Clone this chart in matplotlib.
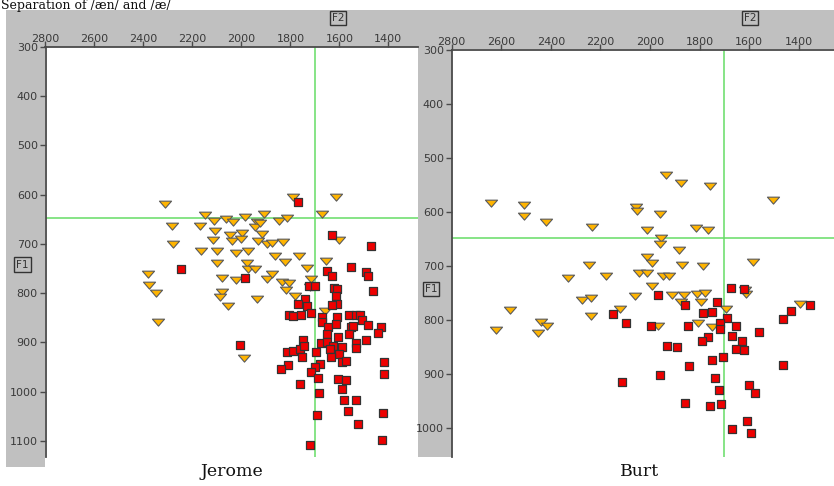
import matplotlib
matplotlib.use('Agg')
import matplotlib.pyplot as plt
from matplotlib.patches import Rectangle
from matplotlib.path import Path

W, H = 834, 486

# F2 ticks / F1 ticks
f2_ticks = [2800, 2600, 2400, 2200, 2000, 1800, 1600, 1400]
jerome_f1_ticks = [300, 400, 500, 600, 700, 800, 900, 1000, 1100]
burt_f1_ticks = [300, 400, 500, 600, 700, 800, 900, 1000]

# green reference lines (F2, F1)
ref_f2 = 1700
ref_f1 = 648

# Jerome: /æn/ (triangles)
jerome_tri_f2 = [1791, 1612, 2312, 2149, 2112, 2061, 2033, 1986, 1907, 1938, 1847, 1812,
                 1673, 2282, 2169, 2106, 2047, 1999, 1945, 1925, 1914, 2115, 2040, 2002,
                 1931, 1897, 1877, 1832, 1602, 2281, 2165, 2101, 2023, 1972, 1863, 1823,
                 1764, 1655, 2101, 1979, 1975, 1945, 1734, 2380, 2081, 2023, 1897, 1877,
                 1836, 1805, 1714, 2378, 2349, 1816, 1782, 2081, 2088, 1935, 2054, 1659,
                 2340, 1990, 1718]
jerome_tri_f1 = [604, 605, 619, 641, 654, 650, 656, 646, 639, 656, 654, 648,
                 639, 664, 664, 674, 681, 678, 666, 658, 680, 693, 695, 691,
                 695, 701, 699, 697, 692, 701, 715, 714, 718, 714, 724, 736,
                 724, 734, 739, 739, 751, 751, 749, 761, 769, 773, 772, 761,
                 777, 780, 772, 783, 800, 793, 805, 797, 807, 813, 827, 837,
                 859, 932, 788]

# Jerome: /æ/ (squares)
jerome_sq_f2 = [1771, 1632, 1472, 2247, 1652, 1629, 1554, 1493, 1482, 1987, 1723, 1700,
                1623, 1608, 1613, 1462, 1741, 1768, 1734, 1609, 1632, 1805, 1791, 1755,
                1714, 1673, 1609, 1560, 1533, 1516, 1506, 1669, 1646, 1612, 1554, 1544,
                1482, 1432, 1442, 1560, 1652, 1748, 1605, 1676, 1652, 1625, 1591, 1533,
                1493, 1812, 1789, 1761, 1744, 1696, 1639, 1601, 1754, 1636, 1591, 1574,
                1533, 2006, 1809, 1840, 1680, 1700, 1714, 1687, 1607, 1575, 1761, 1418,
                1418, 1591, 1682, 1580, 1533, 1564, 1691, 1421, 1523, 1424, 1718]
jerome_sq_f1 = [614, 681, 705, 752, 756, 766, 747, 758, 766, 770, 786, 786,
                790, 792, 806, 795, 812, 822, 827, 822, 825, 844, 847, 844,
                840, 848, 849, 844, 844, 844, 854, 859, 869, 863, 869, 867,
                864, 869, 882, 883, 883, 895, 890, 902, 900, 907, 910, 901,
                896, 919, 917, 913, 908, 920, 913, 924, 930, 930, 941, 937,
                912, 905, 946, 954, 944, 951, 961, 972, 974, 976, 985, 941,
                964, 995, 1003, 1017, 1017, 1039, 1047, 1044, 1065, 1098, 1108]

# Burt: /æn/ (triangles)
burt_tri_f2 = [1936, 1877, 1759, 2642, 2509, 2509, 2420, 2058, 2053, 1960, 1503, 2236,
               2014, 1815, 1768, 1956, 1960, 1882, 2014, 1991, 2245, 1873, 1785, 1584,
               2332, 2178, 2044, 2011, 1949, 1923, 1991, 2276, 2240, 2061, 1913, 1863,
               1812, 1779, 1877, 1796, 1617, 1611, 2565, 2121, 1695, 1396, 2240, 2440,
               2417, 2621, 2451, 1967, 1808, 1752]
burt_tri_f1 = [531, 547, 552, 584, 587, 607, 618, 590, 598, 604, 577, 627,
               633, 629, 633, 649, 659, 670, 684, 695, 698, 698, 700, 693,
               723, 719, 714, 714, 719, 719, 738, 763, 759, 755, 754, 753,
               752, 751, 766, 766, 745, 752, 782, 780, 780, 770, 792, 804,
               812, 819, 825, 811, 806, 814]

# Burt: /æ/ (squares)
burt_sq_f2 = [1674, 1620, 1967, 1859, 1728, 2151, 1785, 1752, 1691, 1463, 1432, 1355,
              2095, 1996, 1846, 1718, 1718, 1655, 1768, 1669, 1792, 1631, 1560, 1655,
              1621, 1933, 1890, 1705, 1752, 1842, 1463, 1960, 1738, 2115, 1600, 1722,
              1577, 1859, 1759, 1714, 1608, 1669, 1591]
burt_sq_f1 = [741, 743, 754, 772, 767, 790, 788, 786, 797, 799, 783, 772,
              806, 811, 811, 806, 817, 812, 831, 829, 840, 840, 822, 854,
              856, 849, 851, 868, 874, 886, 883, 902, 907, 915, 920, 930,
              936, 954, 959, 956, 988, 1002, 1009]

GRAY = '#c0c0c0'
AXC = '#4a4a4a'
TXT = '#3a3a3a'
GREEN = '#66dd66'


def fig_box(x0, y0, x1, y1):
    return [x0 / W, 1 - y1 / H, (x1 - x0) / W, (y1 - y0) / H]


tri = Path([(-1, 0.55), (1, 0.55), (0, -0.6), (-1, 0.55)],
           [Path.MOVETO, Path.LINETO, Path.LINETO, Path.CLOSEPOLY])

fig = plt.figure(figsize=(W / 100, H / 100), dpi=100)
fig.patch.set_facecolor('white')

# gray frame bands
for x0, y0, x1, y1 in [(6, 10, 834, 49), (6, 10, 45, 467), (418, 10, 452, 457)]:
    fig.patches.append(Rectangle((x0 / W, 1 - y1 / H), (x1 - x0) / W, (y1 - y0) / H,
                                 transform=fig.transFigure, facecolor=GRAY,
                                 edgecolor='none', zorder=-5))

panels = [
    (fig_box(45.5, 47, 418, 457), (2800, 1279), (1133, 300), jerome_f1_ticks,
     jerome_tri_f2, jerome_tri_f1, jerome_sq_f2, jerome_sq_f1),
    (fig_box(451.7, 50, 834, 457), (2800, 1258), (1054, 300), burt_f1_ticks,
     burt_tri_f2, burt_tri_f1, burt_sq_f2, burt_sq_f1),
]

axes = []
for box, xl, yl, yt, tx, ty, sx, sy in panels:
    ax = fig.add_axes(box)
    ax.set_facecolor('white')
    ax.set_xlim(*xl)
    ax.set_ylim(*yl)
    ax.axvline(ref_f2, color=GREEN, lw=1.1, zorder=1)
    ax.axhline(ref_f1, color=GREEN, lw=1.1, zorder=1)
    ax.scatter(tx, ty, s=76, marker=tri, facecolor='#ffb400', edgecolor='#5a5a5a',
               linewidths=0.8, zorder=3)
    ax.scatter(sx, sy, s=36, marker='s', facecolor='#ee0000', edgecolor='#333333',
               linewidths=0.9, zorder=4)
    ax.xaxis.tick_top()
    ax.set_xticks(f2_ticks)
    ax.set_yticks(yt)
    ax.tick_params(axis='x', direction='out', length=4, width=1, color=AXC,
                   pad=-1.5, labelsize=8, labelcolor=TXT)
    ax.tick_params(axis='y', direction='out', length=4, width=1, color=AXC,
                   pad=1.5, labelsize=8, labelcolor=TXT)
    for side in ['right', 'bottom']:
        ax.spines[side].set_visible(False)
    for side in ['left', 'top']:
        ax.spines[side].set_color(AXC)
        ax.spines[side].set_linewidth(1.3)
    axes.append(ax)

# F1 / F2 boxed labels
box_style = dict(boxstyle='square,pad=0.2', facecolor=GRAY, edgecolor='#333333', lw=1)
for x, y, s in [(338, 18, 'F2'), (750, 18, 'F2'), (22.5, 264.5, 'F1'), (431, 289, 'F1')]:
    fig.text(x / W, 1 - y / H, s, ha='center', va='center', fontsize=7.5,
             color='#333333', bbox=box_style)

# captions
fig.text(232 / W, 1 - 471 / H, 'Jerome', ha='center', va='center',
         fontsize=12.5, family='DejaVu Serif', color='#111111')
fig.text(640 / W, 1 - 471 / H, 'Burt', ha='center', va='center',
         fontsize=12.5, family='DejaVu Serif', color='#111111')
fig.text(1 / W, 1 - 9.5 / H, 'Separation of /æn/ and /æ/', ha='left', va='baseline',
         fontsize=9, family='DejaVu Serif', color='#111111')

fig.savefig('out.png', dpi=100, facecolor='white')
